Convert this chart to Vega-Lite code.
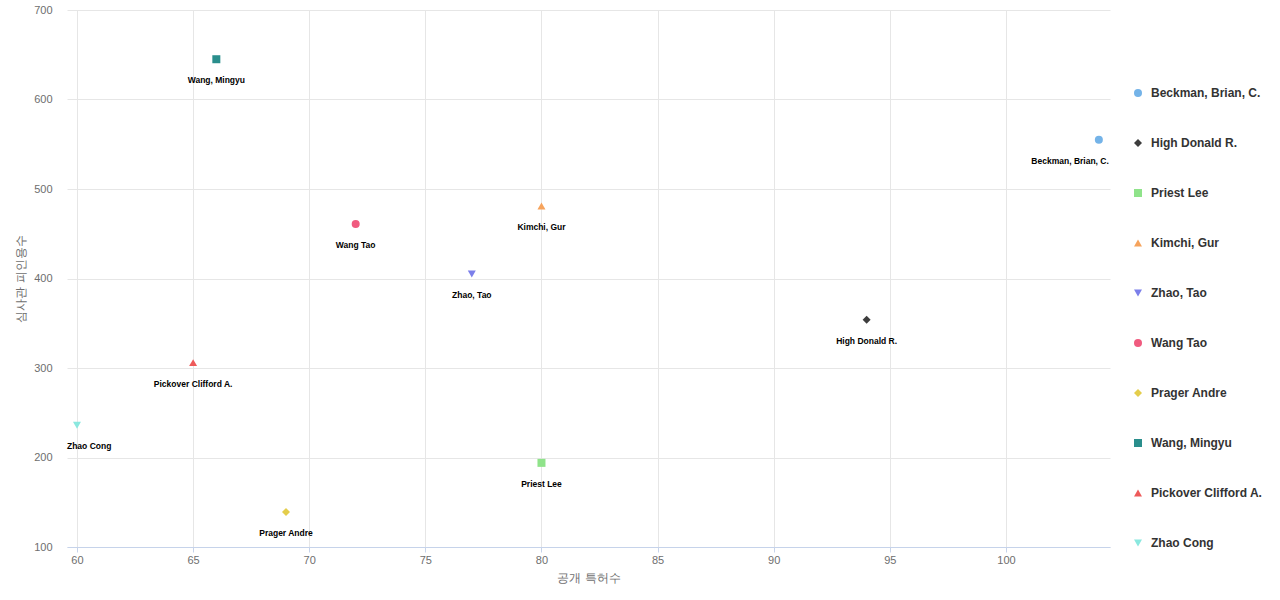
{
  "$schema": "https://vega.github.io/schema/vega-lite/v6.json",
  "autosize": "none",
  "padding": {"left": 67, "top": 10, "right": 170, "bottom": 53},
  "width": 1043,
  "height": 537,
  "config": {"view": {"stroke": null}, "font": "Liberation Sans"},
  "data": {"values": [
    {"name": "Beckman, Brian, C.", "patents": 104, "citations": 555},
    {"name": "High Donald R.", "patents": 94, "citations": 354},
    {"name": "Priest Lee", "patents": 80, "citations": 194},
    {"name": "Kimchi, Gur", "patents": 80, "citations": 481},
    {"name": "Zhao, Tao", "patents": 77, "citations": 405},
    {"name": "Wang Tao", "patents": 72, "citations": 461},
    {"name": "Prager Andre", "patents": 69, "citations": 139},
    {"name": "Wang, Mingyu", "patents": 66, "citations": 645},
    {"name": "Pickover Clifford A.", "patents": 65, "citations": 306},
    {"name": "Zhao Cong", "patents": 60, "citations": 236}
  ]},
  "encoding": {
    "x": {"field": "patents", "type": "quantitative", "title": "공개 특허수",
      "scale": {"domain": [59.57, 104.48], "nice": false, "zero": false},
      "axis": {"values": [60, 65, 70, 75, 80, 85, 90, 95, 100], "gridColor": "#e6e6e6", "domainColor": "#c6d3ea", "tickColor": "#c6d3ea", "tickSize": 5, "labelColor": "#6e6e6e", "labelFontSize": 11, "labelPadding": 2, "titleColor": "#6e6e6e", "titleFontSize": 12, "titleFontWeight": "normal", "titlePadding": 7}},
    "y": {"field": "citations", "type": "quantitative", "title": "심사관 피인용수",
      "scale": {"domain": [100, 700], "nice": false, "zero": false},
      "axis": {"values": [100, 200, 300, 400, 500, 600, 700], "gridColor": "#e6e6e6", "domain": false, "ticks": false, "labelColor": "#6e6e6e", "labelFontSize": 11, "labelPadding": 15, "titleColor": "#6e6e6e", "titleFontSize": 12, "titleFontWeight": "normal", "titlePadding": 6}}
  },
  "layer": [
    {
      "mark": {"type": "point", "filled": true, "opacity": 1, "size": 64},
      "encoding": {
        "color": {"field": "name", "type": "nominal", "title": null,
          "scale": {"domain": ["Beckman, Brian, C.", "High Donald R.", "Priest Lee", "Kimchi, Gur", "Zhao, Tao", "Wang Tao", "Prager Andre", "Wang, Mingyu", "Pickover Clifford A.", "Zhao Cong"],
            "range": ["#74b3e8", "#3d3d3d", "#8fe38a", "#f6a35c", "#7b7fea", "#f05b7f", "#e4cd4b", "#2a8e8c", "#ee5a5a", "#8ae8df"]},
          "legend": {"orient": "none", "legendX": 1065, "legendY": 77, "rowPadding": 38, "labelFontSize": 12, "labelFontWeight": "bold", "labelColor": "#333333", "symbolSize": 64, "labelOffset": 7, "symbolStrokeWidth": 0}},
        "shape": {"field": "name", "type": "nominal",
          "scale": {"domain": ["Beckman, Brian, C.", "High Donald R.", "Priest Lee", "Kimchi, Gur", "Zhao, Tao", "Wang Tao", "Prager Andre", "Wang, Mingyu", "Pickover Clifford A.", "Zhao Cong"],
            "range": ["circle", "diamond", "square", "triangle-up", "triangle-down", "circle", "diamond", "square", "triangle-up", "triangle-down"]}}
      }
    },
    {
      "transform": [{"filter": "datum.name !== 'Beckman, Brian, C.' && datum.name !== 'Zhao Cong'"}],
      "mark": {"type": "text", "dy": 21, "fontSize": 8.5, "fontWeight": "bold", "color": "#000000"},
      "encoding": {"text": {"field": "name"}}
    },
    {
      "transform": [{"filter": "datum.name === 'Beckman, Brian, C.'"}],
      "mark": {"type": "text", "dy": 21, "dx": 10, "align": "right", "fontSize": 8.5, "fontWeight": "bold", "color": "#000000"},
      "encoding": {"text": {"field": "name"}}
    },
    {
      "transform": [{"filter": "datum.name === 'Zhao Cong'"}],
      "mark": {"type": "text", "dy": 21, "dx": -10, "align": "left", "fontSize": 8.5, "fontWeight": "bold", "color": "#000000"},
      "encoding": {"text": {"field": "name"}}
    }
  ]
}
